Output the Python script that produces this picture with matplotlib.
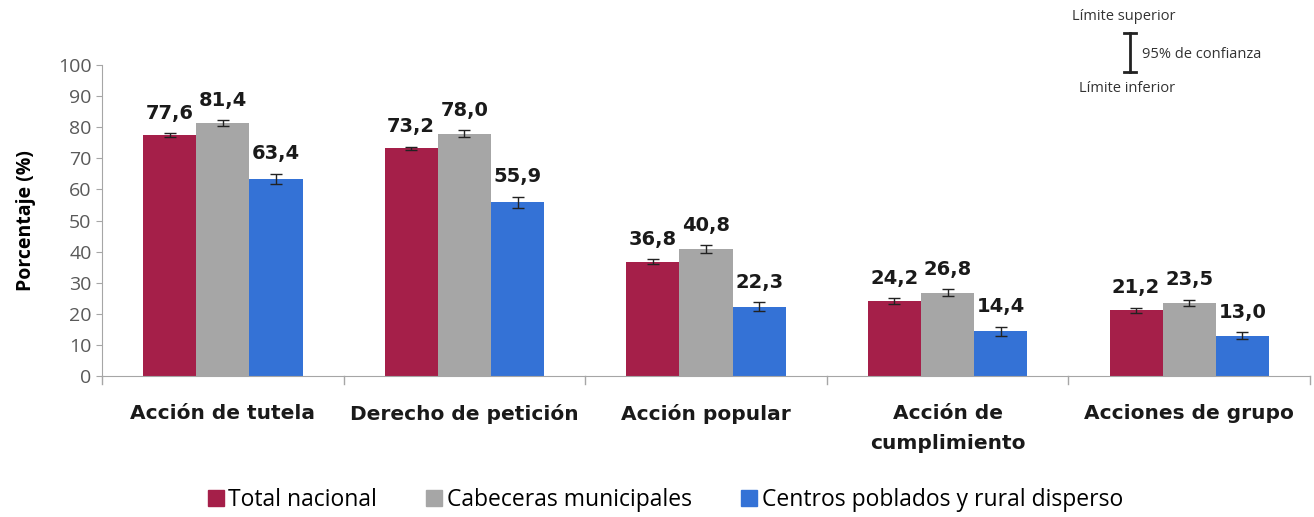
import matplotlib
matplotlib.use("Agg")
import matplotlib.pyplot as plt
import numpy as np
from matplotlib.lines import Line2D

categories = ["Acción de tutela", "Derecho de petición", "Acción popular",
              "Acción de\ncumplimiento", "Acciones de grupo"]
series = ["Total nacional", "Cabeceras municipales", "Centros poblados y rural disperso"]
total = [77.6, 73.2, 36.8, 24.2, 21.2]
cabeceras = [81.4, 78.0, 40.8, 26.8, 23.5]
centros = [63.4, 55.9, 22.3, 14.4, 13.0]
err_total = [0.6, 0.6, 0.9, 0.9, 0.8]
err_cab = [1.0, 1.0, 1.2, 1.2, 1.1]
err_cen = [1.7, 1.8, 1.5, 1.5, 1.2]
colors = ["#A51F49", "#A6A6A6", "#3472D6"]

plt.rcParams['font.family'] = ['Open Sans', 'DejaVu Sans']
fig = plt.figure(figsize=(13.14, 5.17), dpi=100)
ax = fig.add_axes([0.0776, 0.2727, 0.9194, 0.6013])

x = np.arange(len(categories))
w = 0.22
data = [total, cabeceras, centros]
errs = [err_total, err_cab, err_cen]
for i, (vals, e, c, name) in enumerate(zip(data, errs, colors, series)):
    pos = x + (i - 1) * w
    ax.bar(pos, vals, width=w, color=c, label=name, zorder=2)
    ax.errorbar(pos, vals, yerr=e, fmt='none', ecolor='#222222', elinewidth=1,
                capsize=4.5, capthick=1, zorder=3)
    for xp, v, ee in zip(pos, vals, e):
        ax.text(xp, v + ee + 4.6, f"{v:.1f}".replace('.', ','), ha='center', va='baseline',
                fontsize=14, fontweight='bold', color='#1a1a1a', family='DejaVu Sans')

ax.set_xlim(-0.5, len(categories) - 0.5)
ax.set_ylim(0, 100)
ax.set_yticks(range(0, 101, 10))
ax.tick_params(axis='y', labelsize=14, colors='#A6A6A6', length=4, direction='out')
for lbl in ax.get_yticklabels():
    lbl.set_color('#595959')
ax.set_xticks(x)
ax.set_xticklabels(categories, fontsize=14.5, fontweight='bold', color='#1a1a1a',
                   family='DejaVu Sans', linespacing=1.75)
ax.tick_params(axis='x', length=0, pad=20)
for b in np.arange(-0.5, len(categories), 1.0):
    ax.plot([b, b], [0, -2.5], color='#A6A6A6', lw=1, clip_on=False)
for s in ['top', 'right']:
    ax.spines[s].set_visible(False)
for s in ['left', 'bottom']:
    ax.spines[s].set_color('#A6A6A6')
ax.set_ylabel("Porcentaje (%)", fontsize=14, fontweight='bold', labelpad=16)

handles = [Line2D([0], [0], marker='s', color='none', markerfacecolor=c, markeredgecolor=c,
                  markersize=11) for c in colors]
fig.legend(handles, series, loc='center', bbox_to_anchor=(0.505, 0.033), ncol=3, frameon=False,
           fontsize=16.5, handletextpad=0.05, columnspacing=2.0, handlelength=1.0)

# confidence legend
fig.text(1124 / 1314, 1 - 17 / 517, "Límite superior", fontsize=10.5, ha='center', va='center', color='#333333')
fig.text(1127 / 1314, 1 - 88 / 517, "Límite inferior", fontsize=10.5, ha='center', va='center', color='#333333')
fig.text(1142 / 1314, 1 - 55 / 517, "95% de confianza", fontsize=10.5, ha='left', va='center', color='#333333')
fig.add_artist(Line2D([1130 / 1314, 1130 / 1314], [1 - 33 / 517, 1 - 72 / 517], color='#222222', lw=2))
fig.add_artist(Line2D([1124 / 1314, 1136 / 1314], [1 - 33 / 517, 1 - 33 / 517], color='#222222', lw=2))
fig.add_artist(Line2D([1124 / 1314, 1136 / 1314], [1 - 72 / 517, 1 - 72 / 517], color='#222222', lw=2))

fig.savefig("out.png", dpi=100)
